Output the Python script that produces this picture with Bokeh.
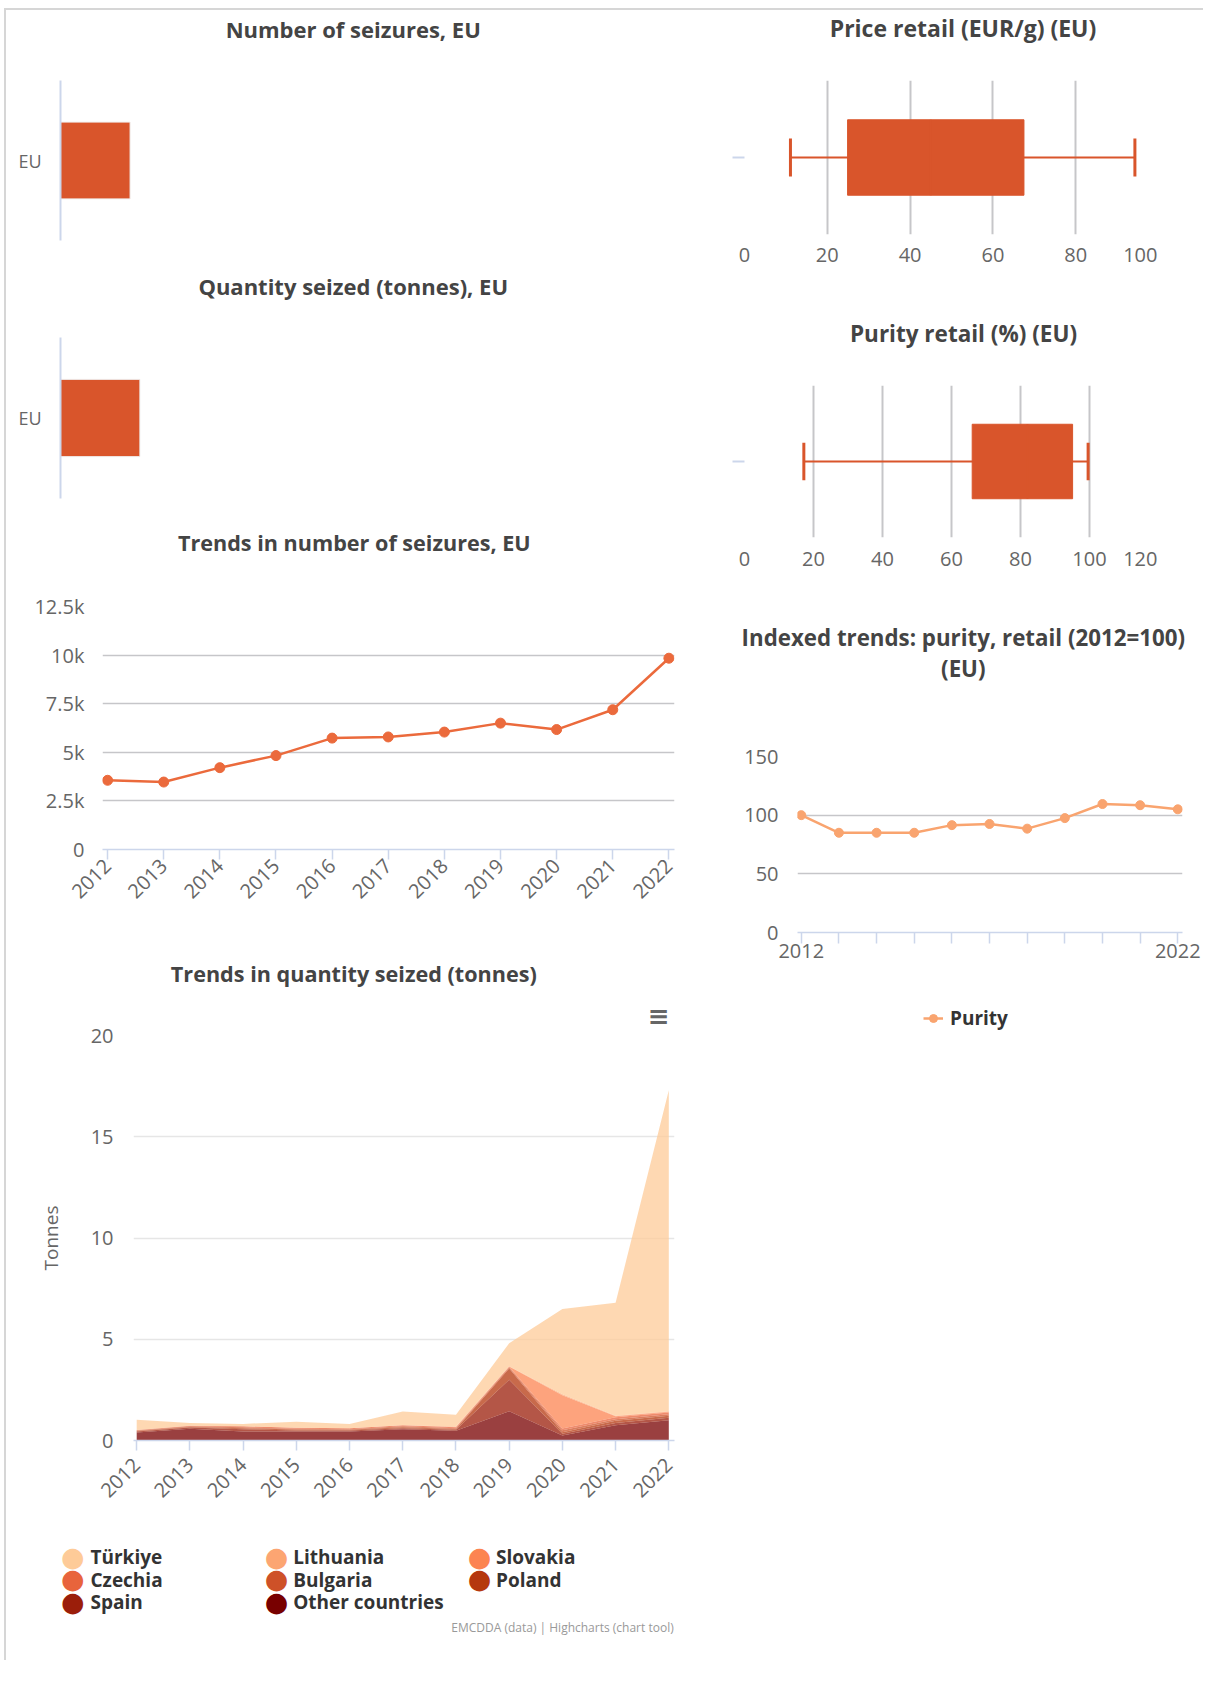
import math
from bokeh.plotting import figure
from bokeh.models import (Range1d, FactorRange, FixedTicker, Legend, LegendItem,
                          ColumnDataSource, Title)
from bokeh.transform import dodge
from bokeh.layouts import row, column
from bokeh.core.properties import value
from bokeh.embed import file_html
from bokeh.resources import INLINE

# ---------------- data ----------------
eu_category = ["EU"]

seizures_eu = [9844]          # number of seizures (EU, latest year)
seizures_axis_max = 87000
quantity_eu = [17.3]          # tonnes seized (EU, latest year)
quantity_axis_max = 134

price_low = [11.1]
price_q1 = [24.9]
price_median = [45.0]
price_q3 = [67.5]
price_high = [94.3]
price_ticks = [0, 20, 40, 60, 80, 100]

purity_low = [17.2]
purity_q1 = [66.0]
purity_median = [82.0]
purity_q3 = [95.1]
purity_high = [99.6]
purity_ticks = [0, 20, 40, 60, 80, 100, 120]

years = [2012, 2013, 2014, 2015, 2016, 2017, 2018, 2019, 2020, 2021, 2022]
seizures_trend = [3560, 3470, 4210, 4830, 5730, 5790, 6040, 6500, 6170, 7190, 9840]
seizure_ticks = [0, 2500, 5000, 7500, 10000, 12500]
seizure_tick_labels = ["0", "2.5k", "5k", "7.5k", "10k", "12.5k"]

purity_index = [100, 85, 85, 85, 91.5, 92.5, 88.5, 97.5, 109.5, 108.5, 105]
index_ticks = [0, 50, 100, 150]
index_labelled_years = [2012, 2022]

# tonnes seized by country (stack order bottom -> top)
other_countries = [0.40, 0.58, 0.45, 0.45, 0.45, 0.55, 0.48, 1.45, 0.25, 0.75, 1.00]
spain = [0.05, 0.06, 0.10, 0.05, 0.05, 0.06, 0.05, 1.55, 0.08, 0.12, 0.12]
poland = [0.02, 0.03, 0.05, 0.04, 0.03, 0.05, 0.04, 0.55, 0.08, 0.10, 0.10]
bulgaria = [0.02, 0.03, 0.05, 0.04, 0.03, 0.04, 0.04, 0.05, 0.10, 0.08, 0.08]
czechia = [0.03, 0.03, 0.05, 0.05, 0.04, 0.05, 0.05, 0.04, 0.08, 0.10, 0.08]
slovakia = [0.00, 0.00, 0.00, 0.00, 0.00, 0.00, 0.01, 0.01, 1.65, 0.05, 0.04]
lithuania = [0.00, 0.00, 0.00, 0.00, 0.00, 0.00, 0.02, 0.02, 0.05, 0.02, 0.02]
turkiye = [0.50, 0.13, 0.12, 0.30, 0.22, 0.68, 0.58, 1.13, 4.21, 5.58, 15.86]
quantity_ticks = [0, 5, 10, 15, 20]

legend_names = ["Türkiye", "Lithuania", "Slovakia", "Czechia", "Bulgaria",
                "Poland", "Spain", "Other countries"]
stack_names = ["Other countries", "Spain", "Poland", "Bulgaria", "Czechia",
               "Slovakia", "Lithuania", "Türkiye"]

# ---------------- styles ----------------
FONT = "Open Sans"
TITLE_COLOR = "#444444"
TICK_COLOR = "#666666"
AXIS_BLUE = "#ccd6eb"
BAR_COLOR = "#D9552B"
LINE_COLOR = "#EB6A3C"
PURITY_COLOR = "#F9A46F"
GRID_COLOR = "#c6c6c9"
TICK_SIZE = "20px"
NBSP = "\u00a0"
country_colors = {
    "Türkiye": "#FECB98", "Lithuania": "#FCA572", "Slovakia": "#FC8452",
    "Czechia": "#E8643C", "Bulgaria": "#CE5128", "Poland": "#B5380F",
    "Spain": "#9B1E0A", "Other countries": "#780000",
}
LEFT_W = 694
RIGHT_W = 503


def base_fig(width, height, left, right, top, bottom, **kw):
    p = figure(width=width, height=height, min_border_left=left, min_border_right=right,
               min_border_top=top, min_border_bottom=bottom, toolbar_location=None,
               output_backend="svg", title=None, **kw)
    p.frame_align = False
    p.outline_line_color = None
    p.background_fill_color = "white"
    p.border_fill_color = "white"
    return p


def text_fig(width, height):
    p = figure(width=width, height=height, x_range=Range1d(0, width),
               y_range=Range1d(0, height), x_axis_type=None, y_axis_type=None,
               min_border=0, toolbar_location=None, output_backend="svg", title=None)
    p.frame_align = False
    p.outline_line_color = None
    p.border_fill_color = "white"
    return p


def put_text(p, x, y, text, size="22px", style="bold", color=TITLE_COLOR,
             align="center", font=FONT):
    p.text(x=[x], y=[y], text=[text], text_font=value(font), text_font_size=size,
           text_font_style=style, text_color=color, text_align=align,
           text_baseline="middle")


def style_axis(ax, size=TICK_SIZE):
    ax.major_label_text_font = FONT
    ax.major_label_text_font_size = size
    ax.major_label_text_color = TICK_COLOR
    ax.minor_tick_line_color = None
    ax.axis_label_text_font = FONT
    ax.axis_label_text_font_style = "normal"
    ax.axis_label_text_color = TICK_COLOR


def year_axis(ax, tick_out, standoff, ticks=years):
    ax.ticker = FixedTicker(ticks=ticks)
    style_axis(ax)
    ax.axis_line_color = AXIS_BLUE
    ax.axis_line_width = 1.5
    ax.major_tick_line_color = AXIS_BLUE
    ax.major_tick_line_width = 1.5
    ax.major_tick_out = tick_out
    ax.major_tick_in = 0
    ax.major_label_standoff = standoff


def value_axis(ax, ticks, standoff):
    ax.ticker = FixedTicker(ticks=ticks)
    style_axis(ax)
    ax.axis_line_color = None
    ax.major_tick_line_color = None
    ax.major_tick_out = 0
    ax.major_tick_in = 0
    ax.major_label_standoff = standoff


# ---------------- left column ----------------
def bar_fig(values, axis_max, height, top, bottom):
    p = base_fig(LEFT_W, height, 54, 25, top, bottom,
                 y_range=FactorRange(factors=eu_category), x_range=Range1d(0, axis_max))
    p.hbar(y=eu_category, right=values, height=0.48, fill_color=BAR_COLOR,
           line_color="#f0f0f0", line_width=1)
    p.xaxis.visible = False
    p.xgrid.visible = False
    p.ygrid.visible = False
    style_axis(p.yaxis[0], "18px")
    p.yaxis.axis_line_color = AXIS_BLUE
    p.yaxis.axis_line_width = 2
    p.yaxis.major_tick_line_color = None
    p.yaxis.major_tick_out = 0
    p.yaxis.major_tick_in = 0
    p.yaxis.major_label_standoff = 19
    return p


t1 = text_fig(LEFT_W, 50)
put_text(t1, 346.7, 32, "Number of seizures, EU")
f1 = bar_fig(seizures_eu, seizures_axis_max, 202, 20, 22)

t2 = text_fig(LEFT_W, 56)
put_text(t2, 346.7, 33, "Quantity seized (tonnes), EU")
f2 = bar_fig(quantity_eu, quantity_axis_max, 200, 19, 20)

# trend in number of seizures
t3 = text_fig(LEFT_W, 62)
put_text(t3, 347.8, 38.3, "Trends in number of seizures, EU", size="21.6px")
f3 = base_fig(LEFT_W, 350, 96, 26, 26, 81,
              x_range=Range1d(2011.909, 2022.10), y_range=Range1d(0, 12500))
f3.line(years, seizures_trend, line_color=LINE_COLOR, line_width=2.5)
f3.scatter(years, seizures_trend, size=10, fill_color=LINE_COLOR, line_color=LINE_COLOR)
value_axis(f3.yaxis[0], seizure_ticks, 18)
f3.yaxis.major_label_overrides = dict(zip(seizure_ticks, seizure_tick_labels))
year_axis(f3.xaxis[0], 10, 3)
f3.xaxis.major_label_orientation = math.pi / 4
f3.xgrid.visible = False
f3.ygrid.grid_line_color = GRID_COLOR
f3.ygrid.grid_line_width = 1.5

# trend in quantity seized (stacked areas)
t4 = text_fig(LEFT_W, 59)
put_text(t4, 347.3, 15.6, "Trends in quantity seized (tonnes)", size="21.6px")
f4 = base_fig(LEFT_W, 531, 127, 26, 46, 80,
              x_range=Range1d(2011.94, 2022.107), y_range=Range1d(0, 20))
f4.add_layout(Title(text="\u2261", align="right", offset=5, standoff=10,
                    text_font="DejaVu Sans", text_font_size="26px",
                    text_font_style="bold", text_color="#666666"), "above")
qsrc = ColumnDataSource(dict(year=years, **{
    "Other countries": other_countries, "Spain": spain, "Poland": poland,
    "Bulgaria": bulgaria, "Czechia": czechia, "Slovakia": slovakia,
    "Lithuania": lithuania, "Türkiye": turkiye}))
f4.varea_stack(stackers=stack_names, x="year", source=qsrc,
               color=[country_colors[n] for n in stack_names], fill_alpha=0.75)
value_axis(f4.yaxis[0], quantity_ticks, 20)
f4.yaxis.axis_label = "Tonnes"
f4.yaxis.axis_label_text_font_size = "19px"
f4.yaxis.axis_label_standoff = 24
year_axis(f4.xaxis[0], 10, 11)
f4.xaxis.major_label_orientation = math.pi / 4
f4.xgrid.visible = False
f4.ygrid.grid_line_color = "#e6e6e6"
f4.ygrid.grid_line_width = 1.5

# legend (three columns, row-major like the original) and credits
l4 = text_fig(LEFT_W, 140)
legend_marker_x = [66.3, 270.0, 473.0]
legend_text_x = [84.0, 286.7, 489.5]
legend_row_y = [103.3, 81.0, 58.3]
for i, name in enumerate(legend_names):
    c, r = i % 3, i // 3
    put_text(l4, legend_marker_x[c], legend_row_y[r] + 1, "\u25CF", size="27px",
             style="normal", color=country_colors[name], font="DejaVu Sans")
    put_text(l4, legend_text_x[c], legend_row_y[r], name, size="19px", color="#333333",
             align="left")
put_text(l4, 667.2, 33.3, "EMCDDA (data) | Highcharts (chart tool)", size="12px",
         style="normal", color="#999999", align="right")

left_col = column(t1, f1, t2, f2, t3, f3, t4, f4, l4)


# ---------------- right column ----------------
def box_fig(height, top, bottom, axis_max, ticks, low, q1, med, q3, high, standoff):
    p = base_fig(RIGHT_W, height, 44, 45, top, bottom,
                 y_range=FactorRange(factors=eu_category), x_range=Range1d(0, axis_max))
    src = ColumnDataSource(dict(cat=eu_category, low=low, q1=q1, med=med, q3=q3, high=high))
    cap_lo = dodge("cat", -0.123, range=p.y_range)
    cap_hi = dodge("cat", 0.123, range=p.y_range)
    p.segment(x0="low", x1="high", y0="cat", y1="cat", source=src,
              line_color=BAR_COLOR, line_width=2)
    p.hbar(y="cat", left="q1", right="q3", height=0.49, source=src,
           fill_color=BAR_COLOR, line_color=BAR_COLOR)
    p.segment(x0="med", x1="med", y0=dodge("cat", -0.245, range=p.y_range),
              y1=dodge("cat", 0.245, range=p.y_range), source=src,
              line_color=BAR_COLOR, line_width=2)
    p.segment(x0="low", x1="low", y0=cap_lo, y1=cap_hi, source=src,
              line_color=BAR_COLOR, line_width=3)
    p.segment(x0="high", x1="high", y0=cap_lo, y1=cap_hi, source=src,
              line_color=BAR_COLOR, line_width=3)
    value_axis(p.xaxis[0], ticks, standoff)
    # last label is kept inside the chart, as in the original
    p.xaxis.major_label_overrides = {ticks[-1]: str(ticks[-1]) + NBSP * 7}
    # category axis: only a small tick, its label is not shown
    style_axis(p.yaxis[0])
    p.yaxis.axis_line_color = None
    p.yaxis.major_label_text_color = None
    p.yaxis.major_tick_line_color = AXIS_BLUE
    p.yaxis.major_tick_line_width = 2
    p.yaxis.major_tick_out = 12
    p.yaxis.major_tick_in = 0
    p.ygrid.visible = False
    p.xgrid.grid_line_color = GRID_COLOR
    p.xgrid.grid_line_width = 2
    return p


tr1 = text_fig(RIGHT_W, 50)
put_text(tr1, 262.5, 32.3, "Price retail (EUR/g) (EU)", size="23px")
r1 = box_fig(230, 20, 56, 100, price_ticks, price_low, price_q1, price_median, price_q3,
             price_high, 6)

tr2 = text_fig(RIGHT_W, 70)
put_text(tr2, 263, 27, "Purity retail (%) (EU)", size="22.5px")
r2 = box_fig(230, 25, 53, 120, purity_ticks, purity_low, purity_q1, purity_median,
             purity_q3, purity_high, 7)

# indexed purity trend
tr3 = text_fig(RIGHT_W, 130)
put_text(tr3, 262.8, 83.3, "Indexed trends: purity, retail (2012=100)", size="22.3px")
put_text(tr3, 262.8, 52.5, "(EU)", size="22.3px")
r3 = base_fig(RIGHT_W, 270, 97, 21, 36, 58,
              x_range=Range1d(2011.90, 2022.125), y_range=Range1d(0, 150))
r3.line(years, purity_index, line_color=PURITY_COLOR, line_width=2.5)
r3.scatter(years, purity_index, size=9, fill_color=PURITY_COLOR, line_color=PURITY_COLOR)
value_axis(r3.yaxis[0], index_ticks, 19)
year_axis(r3.xaxis[0], 11, 0, ticks=index_labelled_years)
r3.xaxis.ticker = FixedTicker(ticks=index_labelled_years,
                              minor_ticks=[y for y in years if y not in index_labelled_years])
r3.xaxis.minor_tick_line_color = AXIS_BLUE
r3.xaxis.minor_tick_line_width = 1.5
r3.xaxis.minor_tick_out = 11
r3.xaxis.minor_tick_in = 0
r3.xgrid.visible = False
r3.ygrid.grid_line_color = GRID_COLOR
r3.ygrid.grid_line_width = 1.5

# legend of the indexed chart, below it (its own series proxies lie outside the view)
lr3 = text_fig(RIGHT_W, 70)
leg_line = lr3.line(x=years[:1], y=purity_index[:1], line_color=PURITY_COLOR,
                    line_width=2.5)
leg_marker = lr3.scatter(x=years[:1], y=purity_index[:1], size=9,
                         fill_color=PURITY_COLOR, line_color=PURITY_COLOR)
leg = Legend(items=[LegendItem(label="Purity", renderers=[leg_line, leg_marker])],
             location=(223, 28.7), glyph_width=20, glyph_height=20, label_standoff=7,
             padding=0, margin=0, border_line_color=None, background_fill_alpha=0,
             label_text_font=FONT, label_text_font_size="19px",
             label_text_font_style="bold", label_text_color="#333333")
lr3.add_layout(leg)

right_col = column(tr1, r1, tr2, r2, tr3, r3, lr3)

page = row(left_col, right_col, margin=(8, 0, 0, 4),
           styles={"border-left": "2px solid #d6d6d6", "border-top": "2px solid #d6d6d6"})

with open("out.html", "w") as fh:
    fh.write(file_html(page, INLINE))
